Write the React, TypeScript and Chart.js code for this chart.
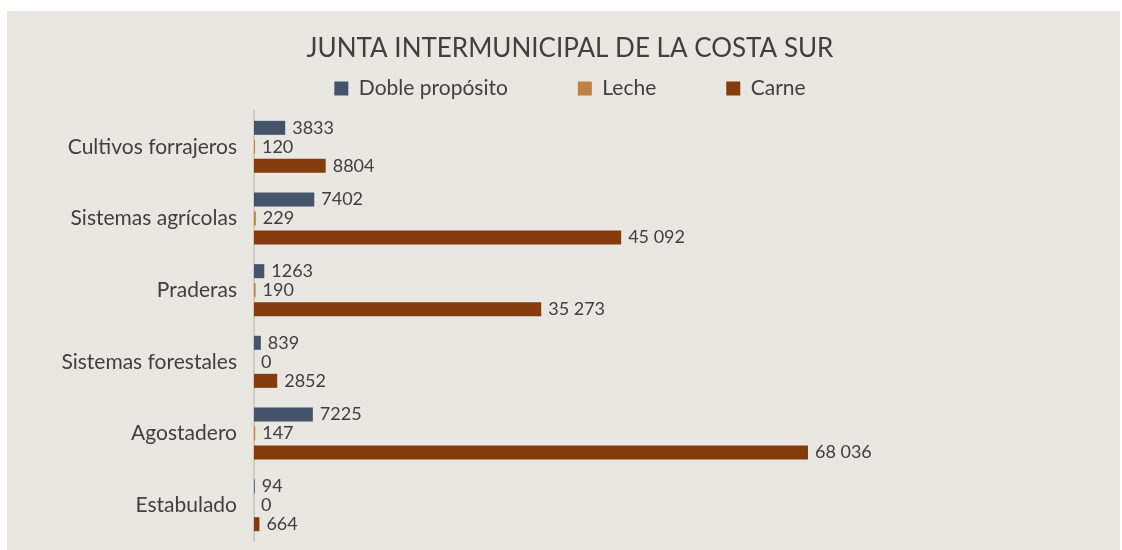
import React, { useEffect, useRef } from "react";
import { Chart, registerables } from "chart.js";

Chart.register(...registerables);

const categories = [
  "Cultivos forrajeros",
  "Sistemas agrícolas",
  "Praderas",
  "Sistemas forestales",
  "Agostadero",
  "Estabulado",
];
const seriesNames = ["Doble propósito", "Leche", "Carne"];
const dobleProposito = [3833, 7402, 1263, 839, 7225, 94];
const leche = [120, 229, 190, 0, 147, 0];
const carne = [8804, 45092, 35273, 2852, 68036, 664];
const xMax = 103900;

const TEXT = "#404040";
const FONT = "Lato";

function fmt(v: number): string {
  const s = String(v);
  return v >= 10000 ? s.replace(/\B(?=(\d{3})+(?!\d))/g, " ") : s;
}

const valueLabels = {
  id: "valueLabels",
  afterDatasetsDraw(chart: any) {
    const ctx = chart.ctx;
    ctx.save();
    ctx.font = `18px ${FONT}`;
    ctx.fillStyle = TEXT;
    ctx.textBaseline = "middle";
    ctx.textAlign = "left";
    chart.data.datasets.forEach((ds: any, i: number) => {
      const meta = chart.getDatasetMeta(i);
      meta.data.forEach((el: any, j: number) => {
        ctx.fillText(fmt(ds.data[j]), el.x + 7, el.y);
      });
    });
    ctx.restore();
  },
};

export default function App() {
  const ref = useRef<HTMLCanvasElement | null>(null);
  useEffect(() => {
    if (!ref.current) return;
    Chart.defaults.font.family = FONT;
    const chart = new Chart(ref.current, {
      type: "bar",
      data: {
        labels: categories,
        datasets: [
          { label: seriesNames[0], data: dobleProposito, backgroundColor: "#44546a" },
          { label: seriesNames[1], data: leche, backgroundColor: "#bf8144" },
          { label: seriesNames[2], data: carne, backgroundColor: "#843c0c" },
        ].map((d) => ({ ...d, barPercentage: 0.737, categoryPercentage: 0.796 })),
      },
      options: {
        indexAxis: "y",
        responsive: false,
        animation: false,
        layout: { autoPadding: false, padding: { left: 40, right: 22, top: 0, bottom: 9 } },
        plugins: {
          title: {
            display: true,
            text: "JUNTA INTERMUNICIPAL DE LA COSTA SUR",
            color: TEXT,
            font: { family: FONT, size: 26, weight: "normal" },
            padding: { top: 32.9, bottom: -56.1 },
          },
          legend: {
            display: true,
            position: "top",
            labels: {
              color: TEXT,
              font: { family: FONT, size: 21 },
              boxWidth: 14,
              boxHeight: 14,
              padding: 70,
            },
          },
          tooltip: { enabled: false },
        },
        scales: {
          x: {
            position: "top",
            min: 0,
            max: xMax,
            ticks: { display: false },
            grid: { display: false },
            border: { display: false },
            afterFit: (s: any) => {
              s.height = 2;
              s.paddingLeft = 0;
              s.paddingRight = 0;
            },
          },
          y: {
            ticks: { color: TEXT, font: { family: FONT, size: 21 }, padding: 17 },
            grid: { display: false, drawTicks: false },
            border: { display: true, color: "#d0cbc0", width: 2 },
            afterFit: (s: any) => {
              s.width = 214;
              s.paddingTop = 0;
              s.paddingBottom = 0;
            },
          },
        },
      },
      plugins: [valueLabels],
    } as any);
    return () => chart.destroy();
  }, []);

  return (
    <div style={{ position: "fixed", left: 0, top: 0, width: 1122, height: 550, background: "#ffffff" }}>
      <div style={{ position: "absolute", left: 7, top: 11, width: 1113, height: 539, background: "#e9e7e2" }} />
      <canvas ref={ref} width={1122} height={550} style={{ position: "absolute", left: 0, top: 0, width: 1122, height: 550 }} />
    </div>
  );
}
